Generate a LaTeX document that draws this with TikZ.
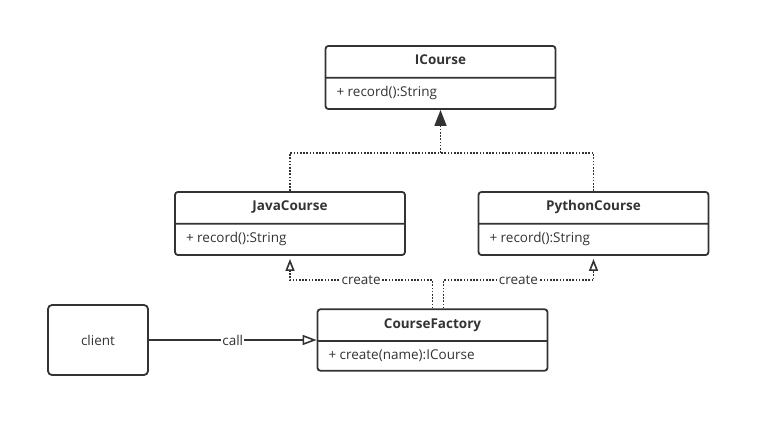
\documentclass[tikz,border=0pt]{standalone}
\usepackage{fontspec}
\setmainfont{Open Sans}
\usetikzlibrary{shapes.multipart,arrows.meta,calc}

\begin{document}
\begin{tikzpicture}
    [x=1pt, y=-1pt,
    umlclass/.style={rectangle split, rectangle split parts=2,
        rectangle split part align={center,left},
        draw=black!80, text=black!80, line width=1.8pt, rounded corners=3pt,
        minimum width=230pt, inner xsep=11pt, inner ysep=8pt,
        text height=10pt, text depth=4pt, font=\fontsize{13.5}{15}\selectfont},
    actor/.style={draw=black!80, text=black!80, line width=1.8pt, rounded corners=4pt,
        minimum width=100pt, minimum height=70pt, font=\fontsize{13.5}{15}\selectfont},
    dots/.style={line width=1.8pt, black!80, dash pattern=on 1.6pt off 1.6pt},
    realize/.style={dots, -{Triangle[length=16pt,width=12pt]}},
    create/.style={dots, -{Triangle[open,length=12pt,width=9pt,line width=1.6pt]}, shorten >=3pt},
    call/.style={line width=1.6pt, black!80, -{Triangle[open,length=14pt,width=10pt,line width=1.6pt]}},
    lbl/.style={fill=white, text=black!80, inner sep=1pt, font=\fontsize{13.5}{15}\selectfont}]
        \useasboundingbox (0,0) rectangle (771,437);

        %% classes
        \node[umlclass] (icourse) at (440.5,77.5) {\textbf{ICourse}\nodepart{two}+ record():String};
        \node[umlclass] (java) at (290,223.5) {\textbf{JavaCourse}\nodepart{two}+ record():String};
        \node[umlclass] (python) at (593.5,223.5) {\textbf{PythonCourse}\nodepart{two}+ record():String};
        \node[umlclass] (factory) at (432.5,340) {\textbf{CourseFactory}\nodepart{two}+ create(name):ICourse};
        \node[actor] (client) at (98,340) {client};

        %% realization
        \coordinate (join) at ($(icourse.south)+(0,43)$);
        \draw[realize] (java.north) |- (join) -- (icourse.south);
        \draw[dots] (python.north) |- (join);

        %% create
        \draw[create] (factory.north) -- ++(0,-28) -| node[lbl, pos=0.25] {create} (java.south);
        \draw[create] ([xshift=11pt]factory.north) -- ++(0,-28) -| node[lbl, pos=0.25] {create} (python.south);

        %% call
        \draw[call] (client) -- node[lbl] {call} (factory.west);
    \end{tikzpicture}
\end{document}
